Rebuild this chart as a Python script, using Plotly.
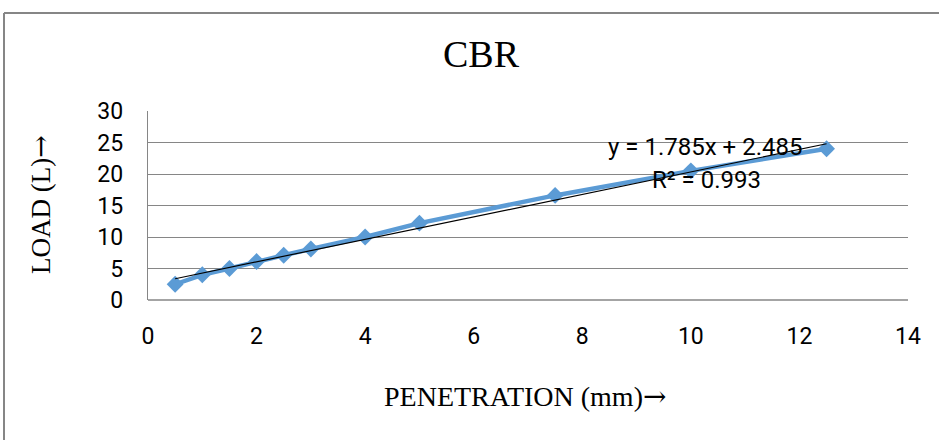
import plotly.graph_objects as go

penetration = [0.5, 1, 1.5, 2, 2.5, 3, 4, 5, 7.5, 10, 12.5]
load = [2.5, 4.0, 5.0, 6.1, 7.1, 8.1, 10.0, 12.2, 16.6, 20.5, 24.0]
slope = 1.785
intercept = 2.485
r2 = 0.993
x_ticks = [0, 2, 4, 6, 8, 10, 12, 14]
y_ticks = [0, 5, 10, 15, 20, 25, 30]

W, H = 939, 440
L, R, T, B = 148, 31, 111, 140
pw, ph = W - L - R, H - T - B

def px(xp):
    return (xp - L) / pw

def py(yp):
    return (H - B - yp) / ph

trend_x = [penetration[0], penetration[-1]]
trend_y = [slope * v + intercept for v in trend_x]

TICKFONT = dict(family="Roboto, Liberation Sans", size=23, color="black")
SERIF = "Liberation Serif"
ARROW = "<span style=\"font-family:'DejaVu Serif'\">→</span>"

fig = go.Figure()
fig.add_trace(go.Scatter(
    x=penetration, y=load, mode="lines+markers",
    line=dict(color="#5B9BD5", width=4.5),
    marker=dict(symbol="diamond", size=13, color="#5B9BD5"),
    showlegend=False, hoverinfo="skip"))
fig.add_trace(go.Scatter(
    x=trend_x, y=trend_y, mode="lines",
    line=dict(color="black", width=1.2),
    showlegend=False, hoverinfo="skip"))

fig.update_layout(
    width=W, height=H,
    margin=dict(l=L, r=R, t=T, b=B),
    paper_bgcolor="white", plot_bgcolor="white",
    xaxis=dict(range=[0, 14], tickvals=x_ticks, showgrid=False, zeroline=False,
               showline=False, ticks="", ticklabelstandoff=20, tickfont=TICKFONT),
    yaxis=dict(range=[0, 30], tickvals=y_ticks, showgrid=True, gridcolor="#868686",
               gridwidth=1.4, zeroline=False, showline=True, linecolor="#868686",
               linewidth=1.4, ticks="", ticklabelstandoff=19, tickfont=TICKFONT),
    annotations=[
        dict(text="CBR", xref="paper", yref="paper", x=px(481), y=py(54),
             xanchor="center", yanchor="middle", showarrow=False,
             font=dict(family=SERIF, size=38, color="black")),
        dict(text="PENETRATION (mm)" + ARROW, xref="paper", yref="paper", x=px(525), y=py(396),
             xanchor="center", yanchor="middle", showarrow=False,
             font=dict(family=SERIF, size=28, color="black")),
        dict(text="LOAD (L)" + ARROW, xref="paper", yref="paper", x=px(40), y=py(205),
             xanchor="center", yanchor="middle", showarrow=False, textangle=-90,
             font=dict(family=SERIF, size=27, color="black")),
        dict(text=f"y = {slope}x + {intercept}", xref="paper", yref="paper",
             x=px(705), y=py(147), xanchor="center", yanchor="middle", showarrow=False,
             font=dict(family="Roboto, Liberation Sans", size=24, color="black")),
        dict(text=f"R² = {r2}", xref="paper", yref="paper",
             x=px(706), y=py(180), xanchor="center", yanchor="middle", showarrow=False,
             font=dict(family="Roboto, Liberation Sans", size=24, color="black")),
    ],
    shapes=[
        dict(type="line", xref="paper", yref="paper", x0=px(4), x1=px(4), y0=py(13), y1=py(440),
             line=dict(color="#868686", width=2)),
        dict(type="line", xref="paper", yref="paper", x0=px(4), x1=px(939), y0=py(13), y1=py(13),
             line=dict(color="#868686", width=2)),
        dict(type="line", xref="paper", yref="paper", x0=0, x1=1, y0=0, y1=0,
             line=dict(color="#868686", width=1.6)),
    ],
)

fig.write_html("out.html", config={"displayModeBar": False},
               post_script="document.body.style.margin='0';document.body.style.overflow='hidden';")
